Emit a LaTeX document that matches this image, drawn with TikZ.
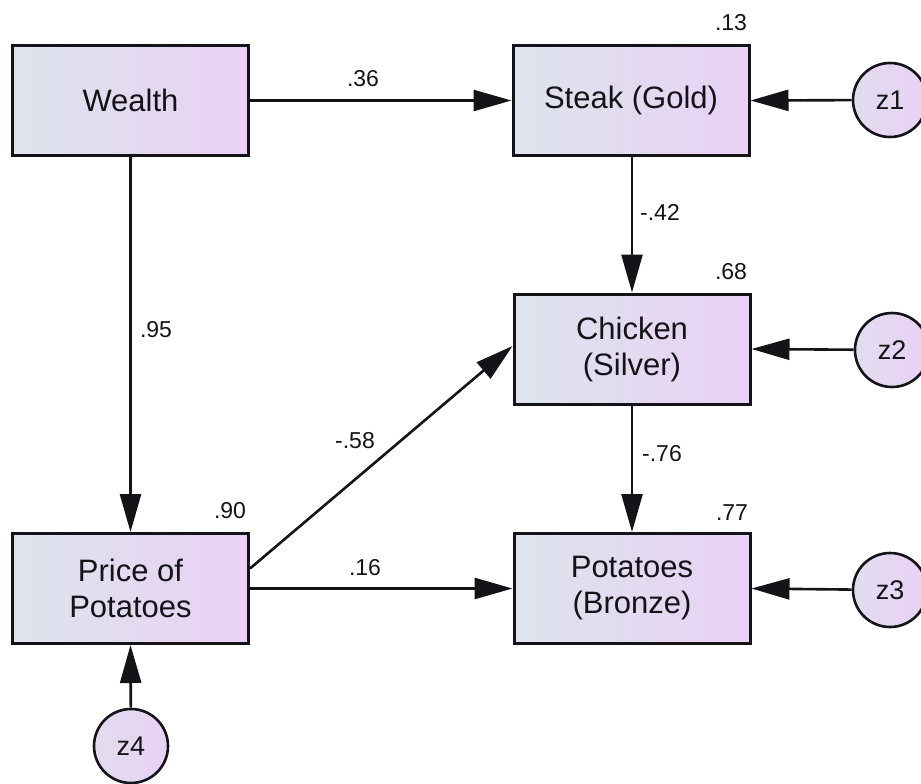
\documentclass[tikz,border=0pt]{standalone}
\usepackage{fontspec}
\setmainfont{Liberation Sans}
\usetikzlibrary{arrows.meta}
\definecolor{boxleft}{RGB}{221,228,236}
\definecolor{boxright}{RGB}{233,209,245}
\definecolor{inkc}{RGB}{20,20,24}
\begin{document}
\begin{tikzpicture}[x=1pt,y=-1pt,
  observed/.style={draw=inkc, line width=3pt, minimum width=236pt, minimum height=110pt,
    inner sep=0pt, left color=boxleft, right color=boxright, align=center,
    text=inkc, font=\fontsize{31}{36}\selectfont},
  residual/.style={circle, draw=inkc, line width=2.6pt, minimum size=74pt, inner sep=0pt,
    left color=boxleft!60!boxright, right color=boxright, text=inkc,
    font=\fontsize{27}{30}\selectfont},
  causal/.style={draw=inkc, line width=2.6pt, -{Triangle[length=38pt,width=21pt]}},
  coef/.style={inner sep=0pt, text=inkc, font=\fontsize{23}{26}\selectfont}]

\clip (0,0) rectangle (921,784);
\useasboundingbox (0,0) rectangle (921,784);
\fill[white] (0,0) rectangle (921,784);

% observed variables
\node[observed] (wealth) at (130.5,100.5) {Wealth};
\node[observed] (steak) at (631,100.5) {Steak (Gold)};
\node[observed] (chicken) at (632,349) {Chicken\\(Silver)};
\node[observed] (potatoes) at (632,588.5) {Potatoes\\(Bronze)};
\node[observed] (price) at (130.5,588.5) {Price of\\Potatoes};

% residual terms
\node[residual] (z1) at (890,100) {z1};
\node[residual] (z2) at (892,350) {z2};
\node[residual] (z3) at (890,590) {z3};
\node[residual] (z4) at (131,746) {z4};

% structural paths
\draw[causal] (wealth.east) -- (steak.west);
\draw[causal] (wealth.south) -- (price.north);
\draw[causal] (steak.south -| chicken.north) -- (chicken.north);
\draw[causal] (chicken.south) -- (potatoes.north);
\draw[causal] ([yshift=20pt]price.east) -- ([yshift=3pt]chicken.west);
\draw[causal] (price.east) -- (potatoes.west);

% residual paths
\draw[causal] (z1) -- (steak.east);
\draw[causal] (z2) -- (chicken.east);
\draw[causal] (z3) -- (potatoes.east);
\draw[causal] (z4) -- (price.south);

% path coefficients
\node[coef] (c36) at (363,79) {.36};
\node[coef] (c42) at (660,212) {-.42};
\node[coef] (c95) at (156,330) {.95};
\node[coef] (c58) at (355,441) {-.58};
\node[coef] (c16) at (365,568) {.16};
\node[coef] (c76) at (662,454) {-.76};

% squared multiple correlations
\node[coef] (r13) at (731,23) {.13};
\node[coef] (r68) at (731,272) {.68};
\node[coef] (r90) at (230,511) {.90};
\node[coef] (r77) at (732,513) {.77};
\end{tikzpicture}
\end{document}
